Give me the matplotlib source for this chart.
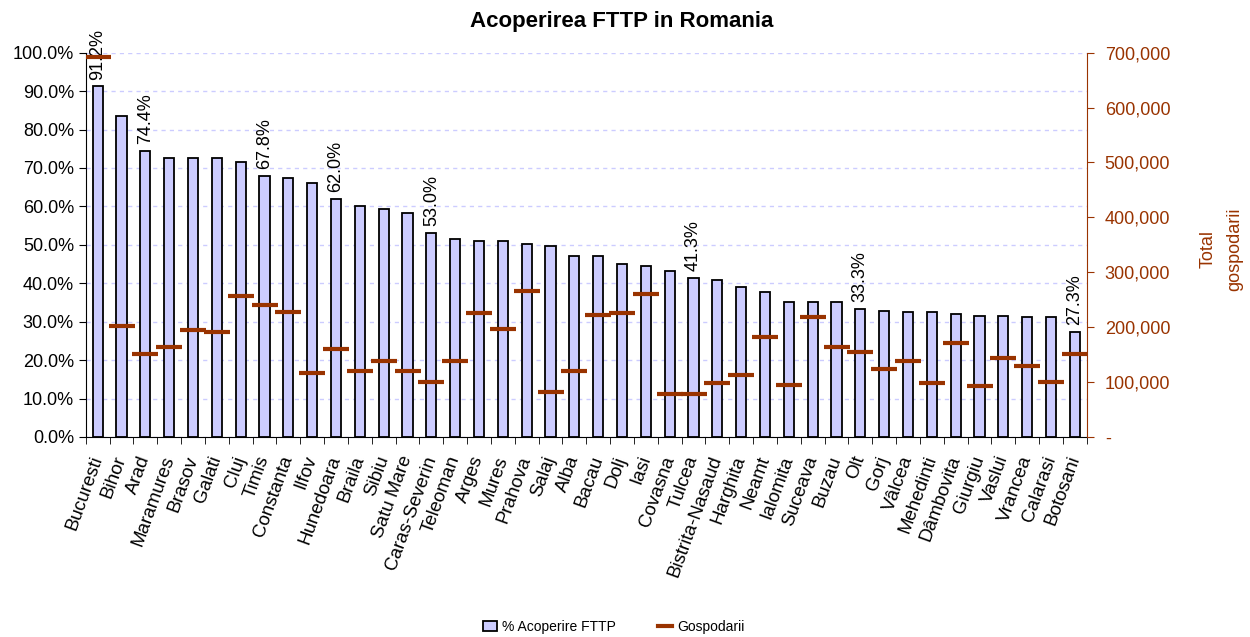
import matplotlib
matplotlib.use("Agg")
import matplotlib.pyplot as plt
from matplotlib.ticker import FuncFormatter, MultipleLocator
from matplotlib.lines import Line2D
from matplotlib.patches import Patch

plt.rcParams["font.family"] = ["Liberation Sans", "DejaVu Sans"]

judete = ["Bucuresti", "Bihor", "Arad", "Maramures", "Brasov", "Galati", "Cluj",
          "Timis", "Constanta", "Ilfov", "Hunedoara", "Braila", "Sibiu", "Satu Mare",
          "Caras-Severin", "Teleoman", "Arges", "Mures", "Prahova", "Salaj", "Alba",
          "Bacau", "Dolj", "Iasi", "Covasna", "Tulcea", "Bistrita-Nasaud", "Harghita",
          "Neamt", "Ialomita", "Suceava", "Buzau", "Olt", "Gorj", "Vâlcea", "Mehedinti",
          "Dâmbovita", "Giurgiu", "Vaslui", "Vrancea", "Calarasi", "Botosani"]

acoperire = [91.2, 83.6, 74.4, 72.5, 72.5, 72.5, 71.6, 67.8, 67.5, 66.2, 62.0, 60.0,
             59.2, 58.3, 53.0, 51.6, 51.1, 51.1, 50.2, 49.7, 47.1, 47.1, 44.9, 44.4,
             43.1, 41.3, 40.9, 39.1, 37.8, 35.1, 35.1, 35.1, 33.3, 32.8, 32.4, 32.4,
             31.9, 31.5, 31.5, 31.1, 31.1, 27.3]

gospodarii = [692000, 203000, 151000, 163000, 194000, 191000, 257000, 241000, 228000,
              116000, 160000, 120000, 138000, 120000, 101000, 138000, 225000, 197000,
              266000, 82000, 120000, 222000, 225000, 260000, 79000, 79000, 98000,
              113000, 182000, 95000, 219000, 163000, 154000, 123000, 138000, 98000,
              172000, 92000, 144000, 129000, 101000, 151000]

# only some bars carry a value label
etichete = ["Bucuresti", "Arad", "Timis", "Hunedoara", "Caras-Severin", "Tulcea", "Olt", "Botosani"]

brown = "#993300"
x = list(range(len(judete)))

fig = plt.figure(figsize=(12.5, 6.37), dpi=100)
ax = fig.add_axes([0.0686, 0.314, 0.8008, 0.6033])
ax2 = ax.twinx()

ax.bar(x, acoperire, width=0.43, color="#CCCCFF", edgecolor="black", linewidth=1.3, zorder=2)

for i, v in enumerate(acoperire):
    if judete[i] in etichete:
        ax.annotate(f"{v:.1f}%", (i, v), xytext=(0, 5), textcoords="offset points",
                    rotation=90, ha="center", va="bottom", fontsize=13,
                    annotation_clip=False, zorder=1)

ax2.plot(x, gospodarii, linestyle="none", marker="_", markersize=19,
         markeredgewidth=3, color=brown, zorder=3)

ax.set_xlim(-0.5, len(judete) - 0.5)
ax.set_ylim(0, 100)
ax2.set_ylim(0, 700000)

ax.yaxis.set_major_locator(MultipleLocator(10))
ax.yaxis.set_major_formatter(FuncFormatter(lambda v, p: f"{v:.1f}%"))
ax.grid(axis="y", color="#CCCCFF", linestyle=(0, (3, 3)), linewidth=1, zorder=0)
ax.set_axisbelow(True)

ax2.yaxis.set_major_locator(MultipleLocator(100000))
ax2.yaxis.set_major_formatter(FuncFormatter(lambda v, p: "-" if v == 0 else f"{v:,.0f}"))

ax.set_xticks(x)
ax.set_xticklabels(judete, rotation=70, ha="right", va="center", rotation_mode="anchor", fontsize=13.5)
ax.set_xticks([i - 0.5 for i in range(len(judete) + 1)], minor=True)
ax.tick_params(axis="x", which="major", length=0, pad=14)
ax.tick_params(axis="x", which="minor", length=5, direction="out", color="black")
ax.tick_params(axis="y", labelsize=13, length=5, direction="out")
ax2.tick_params(axis="y", labelsize=13, length=5, direction="out", colors=brown, pad=8)

ax.spines["top"].set_visible(False)
ax2.spines["top"].set_visible(False)
ax2.spines["left"].set_visible(False)
ax2.spines["bottom"].set_visible(False)
ax2.spines["right"].set_color(brown)
ax.spines["right"].set_visible(False)

fig.text(0.497, 0.967, "Acoperirea FTTP in Romania", ha="center", va="center",
         fontsize=16, fontweight="bold")
fig.text(0.977, 0.609, "Total\ngospodarii", rotation=90, ha="center", va="center",
         multialignment="center", fontsize=13, color=brown, linespacing=1.7)

handles = [Patch(facecolor="#CCCCFF", edgecolor="black", linewidth=1.3, label="% Acoperire FTTP"),
           Line2D([0], [0], color=brown, linewidth=3, label="Gospodarii")]
fig.legend(handles=handles, loc="center", bbox_to_anchor=(0.491, 0.016), ncol=2,
           frameon=False, fontsize=10, handlelength=1.0, handleheight=0.8,
           columnspacing=3, handletextpad=0.4)

fig.savefig("out.png", dpi=100)
